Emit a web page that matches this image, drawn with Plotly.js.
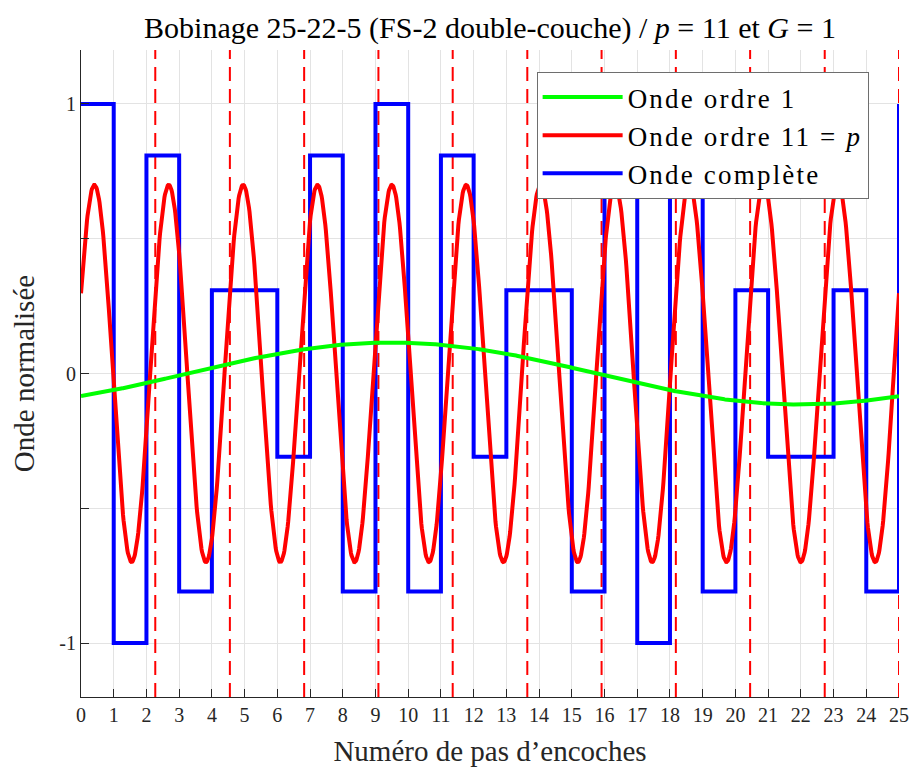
<!DOCTYPE html>
<html>
<head>
<meta charset="utf-8">
<script src="https://cdn.plot.ly/plotly-3.0.1.min.js"></script>
<style>html,body{margin:0;padding:0;background:#fff;}#chart{width:911px;height:767px;}
.legendtext{letter-spacing:2.2px;}
</style>
</head>
<body>
<div id="chart"></div>
<script>
// Slot values of the complete wave (one value per slot pitch, slots 0..24)
const slotValues = [1, -1, 0.809, -0.809, 0.309, 0.309, -0.309, 0.809, -0.809, 1,
                    -0.809, 0.809, -0.309, 0.309, 0.309, -0.809, 0.809, -1, 1, -0.809,
                    0.309, -0.309, -0.309, 0.309, -0.809];
// Slot boundaries (0..25); the last step returns to the start of the next period
const slotEdges = [0,1,2,3,4,5,6,7,8,9,10,11,12,13,14,15,16,17,18,19,20,21,22,23,24,25];
const periodStartValue = 1;
// Harmonic orders shown
const order1 = 1;
const order11 = 11;
// Positions of red dashed verticals (pole pitch marks)
const poleMarks = [2.27, 4.55, 6.82, 9.09, 11.36, 13.64, 15.91, 18.18, 20.45, 22.73, 25];
// Tick labels
const xTickVals = [0,1,2,3,4,5,6,7,8,9,10,11,12,13,14,15,16,17,18,19,20,21,22,23,24,25];
const yTickVals = [-1, -0.5, 0, 0.5, 1];
const yTickText = ['-1', '', '0', '', '1'];

const L = slotValues.length;

// Harmonic of the step wave computed from its slot values (Fourier series)
function harmonic(n) {
  const w = 2 * Math.PI * n / L;
  let a = 0, b = 0;
  for (let k = 0; k < L; k++) {
    a += slotValues[k] * (Math.sin(w * (k + 1)) - Math.sin(w * k)) / w;
    b += slotValues[k] * (Math.cos(w * k) - Math.cos(w * (k + 1))) / w;
  }
  a *= 2 / L; b *= 2 / L;
  const xs = [], ys = [];
  const N = 1500;
  for (let i = 0; i <= N; i++) {
    const x = L * i / N;
    xs.push(x);
    ys.push(a * Math.cos(w * x) + b * Math.sin(w * x));
  }
  return {x: xs, y: ys};
}

const h1 = harmonic(order1);
const h11 = harmonic(order11);

const stepY = slotValues.concat([periodStartValue]);

// dashed vertical lines as one trace with gaps
const dx = [], dy = [];
poleMarks.forEach(p => { dx.push(p, p, null); dy.push(-1.2, 1.2, null); });

const font = 'Liberation Serif, Times New Roman, serif';

const traces = [
  {x: dx, y: dy, mode: 'lines', line: {color: '#ff0000', width: 2, dash: '14px,8px'},
   showlegend: false, hoverinfo: 'skip', connectgaps: false},
  {x: slotEdges, y: stepY, mode: 'lines', line: {color: '#0000ff', width: 4, shape: 'hv'},
   name: 'Onde complète', legendrank: 3},
  {x: h11.x, y: h11.y, mode: 'lines', line: {color: '#ff0000', width: 4},
   name: 'Onde ordre 11 = <i>p</i>', legendrank: 2},
  {x: h1.x, y: h1.y, mode: 'lines', line: {color: '#00ff00', width: 4},
   name: 'Onde ordre 1', legendrank: 1}
];

const layout = {
  width: 911, height: 767,
  margin: {l: 81, r: 12, t: 50, b: 70},
  paper_bgcolor: '#fff', plot_bgcolor: '#fff',
  font: {family: font, color: '#262626', size: 20},
  title: {text: 'Bobinage 25-22-5 (FS-2 double-couche) / <i>p</i> = 11 et <i>G</i> = 1',
          font: {family: font, size: 30, color: '#000'},
          x: 0.5, xref: 'paper', y: 0.964, yref: 'container', yanchor: 'middle'},
  xaxis: {range: [0, 25], tickvals: xTickVals, ticks: 'inside', ticklen: 8, tickcolor: '#262626',
          showline: true, linecolor: '#262626', linewidth: 1, mirror: false,
          showgrid: true, gridcolor: '#e3e3e3', gridwidth: 1, zeroline: false,
          tickfont: {family: font, size: 20, color: '#262626'},
          title: {text: 'Numéro de pas d’encoches', font: {family: font, size: 29, color: '#262626'}, standoff: 15}},
  yaxis: {range: [-1.2, 1.2], tickvals: yTickVals, ticktext: yTickText, ticks: 'inside', ticklen: 8, tickcolor: '#262626',
          showline: true, linecolor: '#262626', linewidth: 1, mirror: false,
          showgrid: true, gridcolor: '#e3e3e3', gridwidth: 1, zeroline: false,
          tickfont: {family: font, size: 20, color: '#262626'},
          title: {text: 'Onde normalisée', font: {family: font, size: 29, color: '#262626'}, standoff: 16}},
  legend: {x: 0.557, y: 0.966, xanchor: 'left', yanchor: 'top',
           bgcolor: '#fff', bordercolor: '#6e6e6e', borderwidth: 1,
           font: {family: font, size: 27, color: '#000'}, itemwidth: 80,
           traceorder: 'normal', tracegroupgap: 0},
  showlegend: true
};

Plotly.newPlot('chart', traces, layout, {displayModeBar: false, staticPlot: true});
</script>
</body>
</html>
